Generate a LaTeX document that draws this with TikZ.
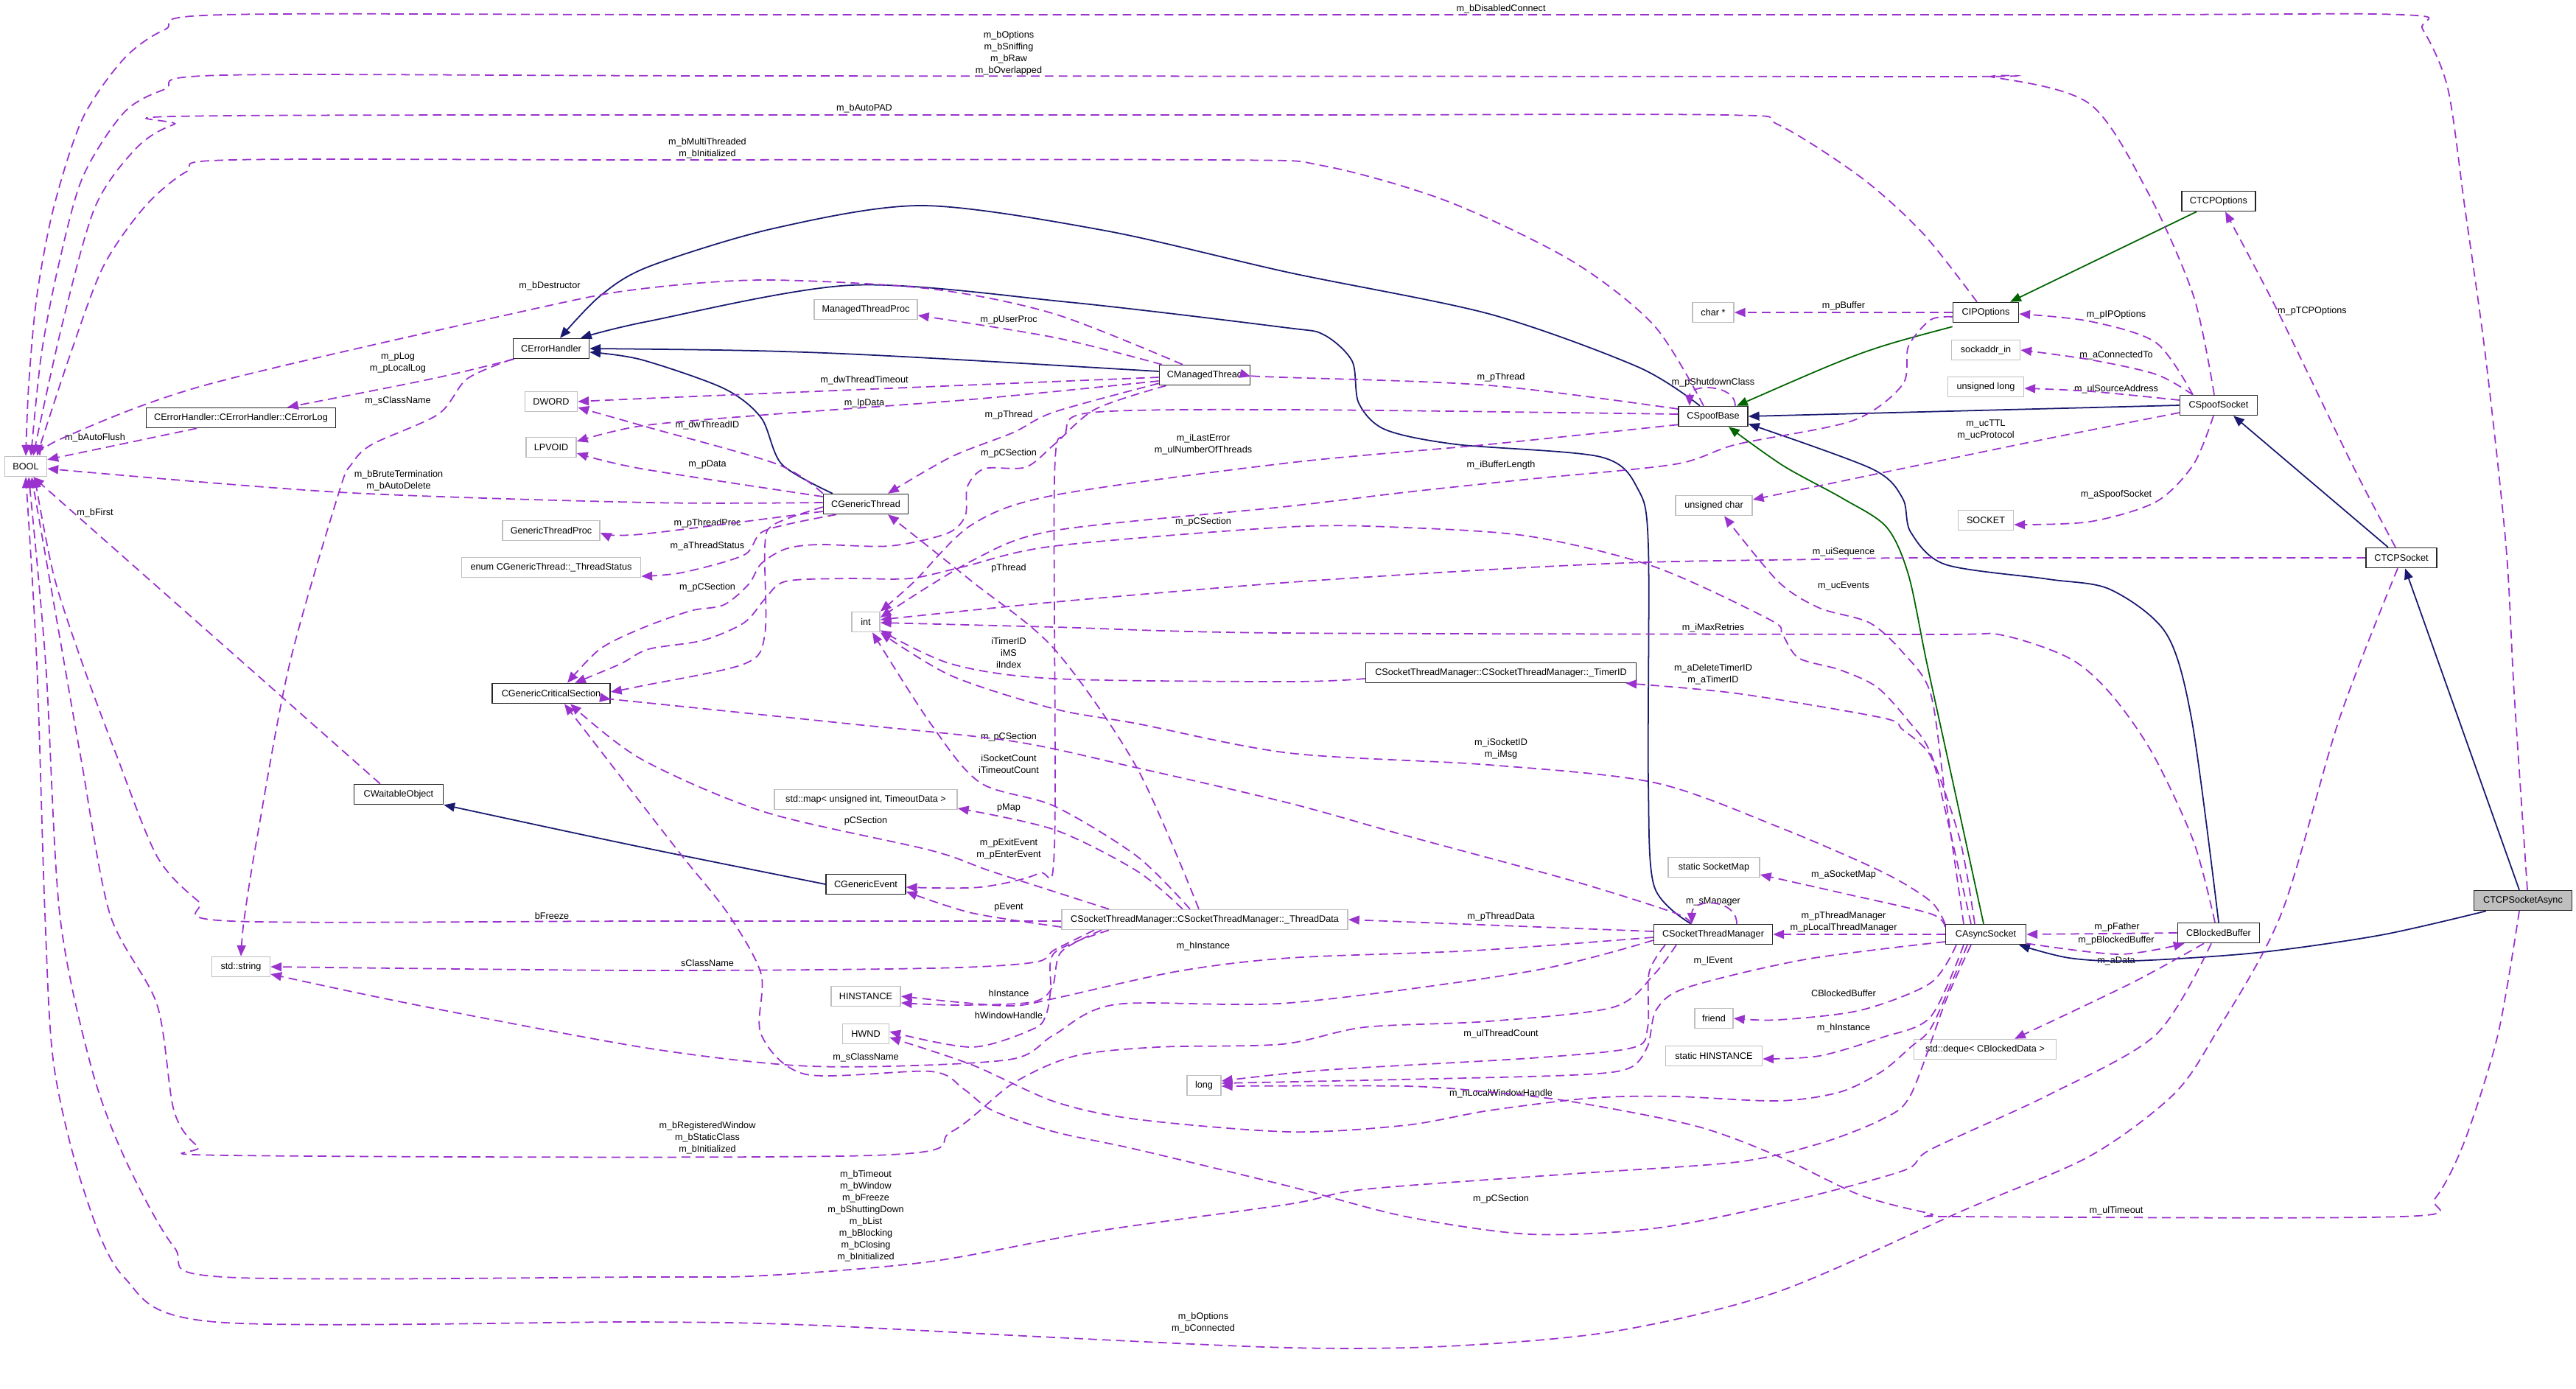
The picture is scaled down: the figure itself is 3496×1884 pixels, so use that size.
\documentclass[tikz,border=0pt]{standalone}
\usepackage{fontspec}
\setmainfont{Liberation Sans}
\usepackage{xcolor}
\usepackage{tikz}
\usetikzlibrary{arrows.meta}
\definecolor{usecol}{HTML}{9A32CD}
\definecolor{inhcol}{HTML}{191970}
\definecolor{protcol}{HTML}{006400}
\definecolor{extcol}{HTML}{BFBFBF}
\newcommand\dxf{\fontsize{3.6pt}{4.55pt}\selectfont}

\begin{document}
\begin{tikzpicture}[x=0.01cm, y=-0.01cm]
  \tikzset{cls/.style={rectangle, draw=black!85, fill=white, line width=0.45pt, minimum height=0.27cm, inner sep=0pt, font=\dxf},
    ext/.style={cls, draw=extcol},
    lab/.style={font=\dxf, align=center, inner sep=0pt},
    use/.style={draw=usecol, line width=0.5pt, dash pattern=on 3.4pt off 2pt, -{Triangle[length=4.2pt,width=3.4pt]}},
    inh/.style={draw=inhcol, line width=0.5pt, -{Triangle[length=4.2pt,width=3.4pt]}},
    prot/.style={draw=protcol, line width=0.5pt, -{Triangle[length=4.2pt,width=3.4pt]}}}
  \useasboundingbox (0,0) rectangle (3496,1884);

  \node[ext, minimum width=0.57cm] (bool) at (35,633) {BOOL};
  \node[cls, minimum width=1.03cm] (eh) at (748,473) {CErrorHandler};
  \node[cls, minimum width=2.57cm] (elog) at (327,567) {CErrorHandler::CErrorHandler::CErrorLog};
  \node[ext, minimum width=0.71cm] (dword) at (748,545) {DWORD};
  \node[ext, minimum width=0.68cm] (lpvoid) at (748,607) {LPVOID};
  \node[ext, minimum width=1.32cm] (gtp) at (748,720) {GenericThreadProc};
  \node[ext, minimum width=2.43cm] (tstat) at (748,770) {enum CGenericThread::\_ThreadStatus};
  \node[cls, minimum width=1.6cm] (gcs) at (748,941) {CGenericCriticalSection};
  \node[cls, minimum width=1.21cm] (wo) at (541,1078) {CWaitableObject};
  \node[ext, minimum width=0.79cm] (str) at (327,1312) {std::string};
  \node[ext, minimum width=1.4cm] (mtp) at (1175,420) {ManagedThreadProc};
  \node[cls, minimum width=1.23cm] (mt) at (1635,509) {CManagedThread};
  \node[cls, minimum width=1.15cm] (gt) at (1175,684) {CGenericThread};
  \node[ext, minimum width=0.38cm] (int) at (1175,844) {int};
  \node[ext, minimum width=2.48cm] (smap) at (1175,1085) {std::map< unsigned int, TimeoutData >};
  \node[cls, minimum width=1.08cm] (ge) at (1175,1200) {CGenericEvent};
  \node[ext, minimum width=3.88cm] (td) at (1635,1248) {CSocketThreadManager::CSocketThreadManager::\_ThreadData};
  \node[ext, minimum width=0.94cm] (hinst) at (1175,1352) {HINSTANCE};
  \node[ext, minimum width=0.63cm] (hwnd) at (1175,1403) {HWND};
  \node[ext, minimum width=0.46cm] (long) at (1634,1473) {long};
  \node[ext, minimum width=0.56cm] (charp) at (2325,424) {char *};
  \node[cls, minimum width=0.94cm] (sb) at (2325,565) {CSpoofBase};
  \node[ext, minimum width=1.04cm] (uchar) at (2326,686) {unsigned char};
  \node[cls, minimum width=3.67cm] (tid) at (2037,913) {CSocketThreadManager::CSocketThreadManager::\_TimerID};
  \node[ext, minimum width=1.24cm] (ssm) at (2326,1177) {static SocketMap};
  \node[cls, minimum width=1.61cm] (stm) at (2325,1268) {CSocketThreadManager};
  \node[ext, minimum width=0.52cm] (friend) at (2326,1382) {friend};
  \node[ext, minimum width=1.31cm] (shinst) at (2326,1433) {static HINSTANCE};
  \node[cls, minimum width=1.0cm] (tcpo) at (3011,273) {CTCPOptions};
  \node[cls, minimum width=0.89cm] (ipo) at (2695,424) {CIPOptions};
  \node[ext, minimum width=0.93cm] (sain) at (2695,475) {sockaddr\_in};
  \node[ext, minimum width=1.03cm] (ulong) at (2695,525) {unsigned long};
  \node[cls, minimum width=1.05cm] (ss) at (3011,550) {CSpoofSocket};
  \node[ext, minimum width=0.75cm] (sock) at (2695,706) {SOCKET};
  \node[cls, minimum width=0.96cm] (tcps) at (3259,757) {CTCPSocket};
  \node[cls, fill=extcol, minimum width=1.33cm] (tcpa) at (3424,1222) {CTCPSocketAsync};
  \node[cls, minimum width=1.09cm] (as) at (2695,1268) {CAsyncSocket};
  \node[cls, minimum width=1.11cm] (bb) at (3011,1266) {CBlockedBuffer};
  \node[ext, minimum width=1.93cm] (deque) at (2694,1424) {std::deque< CBlockedData >};

  \node[lab] (l1) at (2037,12) {m\_bDisabledConnect};
  \node[lab] (l2) at (1369,72) {m\_bOptions\\m\_bSniffing\\m\_bRaw\\m\_bOverlapped};
  \node[lab] (l3) at (1173,147) {m\_bAutoPAD};
  \node[lab] (l4) at (960,201) {m\_bMultiThreaded\\m\_bInitialized};
  \node[lab] (l5) at (746,388) {m\_bDestructor};
  \node[lab] (l6) at (540,492) {m\_pLog\\m\_pLocalLog};
  \node[lab] (l7) at (540,544) {m\_sClassName};
  \node[lab] (l8) at (129,594) {m\_bAutoFlush};
  \node[lab] (l9) at (1369,434) {m\_pUserProc};
  \node[lab] (l10) at (1173,516) {m\_dwThreadTimeout};
  \node[lab] (l11) at (1173,547) {m\_lpData};
  \node[lab] (l12) at (960,577) {m\_dwThreadID};
  \node[lab] (l13) at (1369,563) {m\_pThread};
  \node[lab] (l14) at (960,630) {m\_pData};
  \node[lab] (l15) at (1633,603) {m\_iLastError\\m\_ulNumberOfThreads};
  \node[lab] (l16) at (541,652) {m\_bBruteTermination\\m\_bAutoDelete};
  \node[lab] (l17) at (129,696) {m\_bFirst};
  \node[lab] (l18) at (960,710) {m\_pThreadProc};
  \node[lab] (l19) at (960,741) {m\_aThreadStatus};
  \node[lab] (l20) at (960,797) {m\_pCSection};
  \node[lab] (l21) at (1369,615) {m\_pCSection};
  \node[lab] (l22) at (1633,708) {m\_pCSection};
  \node[lab] (l23) at (1369,771) {pThread};
  \node[lab] (l24) at (1369,886) {iTimerID\\iMS\\iIndex};
  \node[lab] (l25) at (1369,1000) {m\_pCSection};
  \node[lab] (l26) at (1369,1037) {iSocketCount\\iTimeoutCount};
  \node[lab] (l27) at (1369,1096) {pMap};
  \node[lab] (l28) at (1175,1114) {pCSection};
  \node[lab] (l29) at (1369,1152) {m\_pExitEvent\\m\_pEnterEvent};
  \node[lab] (l30) at (1369,1231) {pEvent};
  \node[lab] (l31) at (749,1243) {bFreeze};
  \node[lab] (l32) at (960,1307) {sClassName};
  \node[lab] (l33) at (1633,1284) {m\_hInstance};
  \node[lab] (l34) at (1369,1348) {hInstance};
  \node[lab] (l35) at (1369,1378) {hWindowHandle};
  \node[lab] (l36) at (1175,1435) {m\_sClassName};
  \node[lab] (l37) at (960,1544) {m\_bRegisteredWindow\\m\_bStaticClass\\m\_bInitialized};
  \node[lab] (l38) at (1175,1650) {m\_bTimeout\\m\_bWindow\\m\_bFreeze\\m\_bShuttingDown\\m\_bList\\m\_bBlocking\\m\_bClosing\\m\_bInitialized};
  \node[lab] (l39) at (1633,1795) {m\_bOptions\\m\_bConnected};
  \node[lab] (l40) at (2037,631) {m\_iBufferLength};
  \node[lab] (l41) at (2037,512) {m\_pThread};
  \node[lab] (l42) at (2325,519) {m\_pShutdownClass};
  \node[lab] (l43) at (2502,415) {m\_pBuffer};
  \node[lab] (l44) at (2502,749) {m\_uiSequence};
  \node[lab] (l45) at (2502,795) {m\_ucEvents};
  \node[lab] (l46) at (2325,852) {m\_iMaxRetries};
  \node[lab] (l47) at (2325,915) {m\_aDeleteTimerID\\m\_aTimerID};
  \node[lab] (l48) at (2037,1016) {m\_iSocketID\\m\_iMsg};
  \node[lab] (l49) at (2502,1187) {m\_aSocketMap};
  \node[lab] (l50) at (2325,1223) {m\_sManager};
  \node[lab] (l51) at (2037,1244) {m\_pThreadData};
  \node[lab] (l52) at (2502,1251) {m\_pThreadManager\\m\_pLocalThreadManager};
  \node[lab] (l53) at (2325,1304) {m\_lEvent};
  \node[lab] (l54) at (2502,1348) {CBlockedBuffer};
  \node[lab] (l55) at (2502,1395) {m\_hInstance};
  \node[lab] (l56) at (2037,1403) {m\_ulThreadCount};
  \node[lab] (l57) at (2037,1484) {m\_hLocalWindowHandle};
  \node[lab] (l58) at (2037,1627) {m\_pCSection};
  \node[lab] (l59) at (2873,1258) {m\_pFather};
  \node[lab] (l60) at (2872,1276) {m\_pBlockedBuffer};
  \node[lab] (l61) at (2872,1304) {m\_aData};
  \node[lab] (l62) at (2872,1643) {m\_ulTimeout};
  \node[lab] (l63) at (2872,427) {m\_pIPOptions};
  \node[lab] (l64) at (2872,482) {m\_aConnectedTo};
  \node[lab] (l65) at (2872,528) {m\_ulSourceAddress};
  \node[lab] (l66) at (2695,583) {m\_ucTTL\\m\_ucProtocol};
  \node[lab] (l67) at (3138,422) {m\_pTCPOptions};
  \node[lab] (l68) at (2872,671) {m\_aSpoofSocket};

  \draw[inh] plot[smooth] coordinates {([xshift=-0.18cm]sb.north) (2223,498) (2021,426) (1750,370) (1500,313) (1252,279) (1050,310) (880,362) (814,402) ([xshift=0.12cm]eh.north)};
  \draw[inh] plot[smooth] coordinates {([xshift=-0.3cm]stm.north) (2245,1203) (2237,1062) (2237,741) (2223,664) (2172,620) (1976,603) (1880,583) (1844,547) (1835,490) (1796,454) (1740,444) (1450,410) (1156,387) (880,436) ([xshift=0.4cm]eh.north)};
  \draw[inh] ([yshift=0.05cm]mt.west) .. controls (1100,476) .. (eh.east);
  \draw[inh] plot[smooth] coordinates {([xshift=-0.45cm]gt.north) (1061,630) (1033,567) (982,527) (870,488) ([yshift=-0.05cm]eh.east)};
  \draw[inh] (ge.west) .. controls (870,1150) .. (wo.south east);
  \draw[inh] (ss.west) -- (sb.east);
  \draw[inh] plot[smooth] coordinates {(bb.north) (2975,980) (2940,860) (2864,800) (2780,786) (2640,766) (2593,722) (2582,676) (2540,636) ([yshift=0.04cm]sb.south east)};
  \draw[inh] ([xshift=-0.18cm]tcps.north) -- ([xshift=0.2cm]ss.south);
  \draw[inh] ([xshift=-0.05cm]tcpa.north) -- ([xshift=0.05cm]tcps.south);
  \draw[inh] plot[smooth] coordinates {([xshift=-0.5cm]tcpa.south) (3231,1269) (3062,1293) (2893,1304) (2808,1300) ([xshift=0.45cm]as.south)};
  \draw[prot] ([yshift=-0.05cm]ipo.south west) .. controls (2530,475) .. ([xshift=0.32cm]sb.north);
  \draw[prot] ([xshift=-0.3cm]tcpo.south) -- ([xshift=0.33cm]ipo.north);
  \draw[prot] plot[smooth] coordinates {([xshift=-0.03cm]as.north) (2650,1060) (2615,900) (2590,780) (2560,715) (2500,676) (2420,632) ([xshift=0.21cm]sb.south)};

  \draw[use] plot[smooth] coordinates {([xshift=0.06cm]tcpa.north) (3412,940) (3401,741) (3373,482) (3345,281) (3322,120) (3288,40) (3260,20) (2800,20) (1000,20) (303,20) (224,40) (168,80) (112,161) (73,281) (50,402) (39,522) (bool.north)};
  \draw[use] plot[smooth] coordinates {([xshift=-0.06cm]ss.north) (2977,402) (2915,261) (2836,141) (2706,105) (2610,104) (1000,103) (303,102) (224,121) (168,153) (112,241) (79,362) (56,482) ([xshift=0.07cm]bool.north)};
  \draw[use] plot[smooth] coordinates {([xshift=-0.12cm]ipo.north) (2610,317) (2526,241) (2413,169) (2340,156) (1740,156) (309,157) (236,169) (185,201) (129,281) (84,442) ([xshift=0.1cm]bool.north)};
  \draw[use] plot[smooth] coordinates {([xshift=-0.13cm]sb.north) (2245,442) (2133,354) (1964,273) (1796,225) (1656,217) (870,217) (314,217) (253,233) (196,281) (140,362) (95,482) ([xshift=0.15cm]bool.north)};
  \draw[use] plot[smooth] coordinates {([xshift=-0.3cm]mt.north) (1431,426) (1263,392) (1038,380) (870,392) (730,418) (281,522) (84,595) ([xshift=-0.1cm]bool.north east)};
  \draw[use] ([xshift=-0.6cm]elog.south) -- ([yshift=-0.05cm]bool.north east);
  \draw[use] plot[smooth] coordinates {([yshift=0.02cm]gt.west) (880,682) (460,668) ([yshift=-0.03cm]bool.east)};
  \draw[use] ([xshift=-0.25cm]wo.north) -- ([xshift=0.1cm]bool.south);
  \draw[use] plot[smooth] coordinates {([yshift=-0.02cm]td.west) (880,1250) (314,1250) (269,1223) (213,1162) (157,1022) (112,901) (73,781) ([xshift=0.12cm]bool.south)};
  \draw[use] plot[smooth] coordinates {([xshift=-0.5cm]stm.south) (2245,1322) (2189,1367) (2020,1386) (1852,1394) (1740,1417) (1571,1421) (1459,1433) (1375,1470) (1291,1536) (1184,1568) (314,1568) (269,1556) (236,1507) (213,1363) (149,1240) (110,1030) (75,830) ([xshift=0.08cm]bool.south)};
  \draw[use] plot[smooth] coordinates {([xshift=-0.2cm]as.south) (2640,1360) (2593,1486) (2554,1519) (2469,1552) (2357,1577) (2133,1593) (1852,1614) (1750,1634) (1487,1671) (1263,1712) (1038,1731) (870,1733) (303,1733) (236,1692) (168,1569) (123,1445) (81,1240) (62,900) ([xshift=0.04cm]bool.south)};
  \draw[use] plot[smooth] coordinates {([xshift=-0.05cm]tcps.south) (3175,975) (3096,1240) (3006,1404) (2949,1486) (2836,1569) (2666,1642) (2413,1753) (2189,1807) (1964,1827) (1750,1829) (1431,1815) (1094,1798) (870,1794) (292,1794) (168,1733) (112,1610) (73,1445) (61,1240) (50,900) (bool.south)};

  \draw[use] ([xshift=-0.5cm]eh.south) .. controls (600,512) .. ([xshift=0.63cm]elog.north);
  \draw[use] plot[smooth] coordinates {(eh.south west) (634,514) (595,562) (505,603) (477,630) (460,668) (393,901) (348,1142) (331,1250) (str.north)};
  \draw[use] plot[smooth] coordinates {([xshift=-0.58cm]mt.north) (1431,458) ([yshift=-0.08cm]mtp.east)};
  \draw[use] plot[smooth] coordinates {([yshift=-0.03cm]mt.west) (1207,527) (870,541) (dword.east)};
  \draw[use] plot[smooth] coordinates {([yshift=-0.08cm]mt.west) (1319,542) (1038,563) (870,578) ([yshift=0.08cm]lpvoid.east)};
  \draw[use] plot[smooth] coordinates {(gt.north west) (1055,630) (880,580) ([yshift=-0.08cm]dword.east)};
  \draw[use] plot[smooth] coordinates {([yshift=0.1cm]gt.west) (870,636) ([yshift=-0.08cm]lpvoid.east)};
  \draw[use] plot[smooth] coordinates {([yshift=0.03cm]mt.south west) (1431,559) (1375,587) (1291,620) ([xshift=0.3cm]gt.north)};
  \draw[use] plot[smooth] coordinates {([yshift=-0.1cm]gt.west) (870,725) ([yshift=-0.03cm]gtp.east)};
  \draw[use] plot[smooth] coordinates {([xshift=-0.4cm]gt.south) (1038,720) (1010,753) (926,777) ([yshift=-0.12cm]tstat.east)};

  \draw[use] plot[smooth] coordinates {([yshift=-0.04cm]gt.west) (1050,712) (1038,741) (1038,861) (1010,901) (870,931) ([yshift=0.02cm]gcs.east)};
  \draw[use] plot[smooth] coordinates {([xshift=0.1cm]mt.south west) (1487,555) (1431,603) (1392,634) (1336,636) (1313,660) (1310,700) (1285,724) (1207,741) (1111,739) (1066,745) (1033,765) (1016,793) (982,821) (937,829) (870,853) (814,881) ([xshift=0.22cm]gcs.north)};
  \draw[use] plot[smooth] coordinates {([xshift=-0.15cm]as.north) (2660,1140) (2620,1022) (2593,982) (2548,933) (2497,909) (2441,893) (2419,861) (2402,841) (2245,769) (2077,728) (1908,716) (1750,715) (1431,741) (1308,769) (1235,785) (1150,785) (1066,789) (1038,813) (1010,845) (954,869) (880,881) (842,901) ([xshift=0.32cm]gcs.north)};
  \draw[use] plot[smooth] coordinates {([xshift=-0.3cm]stm.north) (2273,1239) (2133,1195) (1908,1134) (1750,1090) (1543,1042) (1375,1006) (1150,982) (870,953) ([yshift=-0.08cm]gcs.east)};
  \draw[use] plot[smooth] coordinates {([xshift=-1.3cm]td.north) (1347,1183) (1263,1154) (1038,1102) (870,1030) ([xshift=0.26cm]gcs.south)};
  \draw[use] plot[smooth] coordinates {([xshift=-0.1cm]bb.south) (2926,1404) (2780,1486) (2620,1560) (2582,1589) (2413,1634) (2245,1667) (2077,1675) (1908,1651) (1750,1610) (1543,1560) (1431,1536) (1347,1507) (1308,1478) (1263,1454) (1094,1458) (1033,1404) (1033,1322) (988,1240) (926,1162) (870,1090) ([xshift=0.18cm]gcs.south)};

  \draw[use] plot[smooth] coordinates {([yshift=0.03cm]sb.south west) (2021,603) (1750,628) (1431,672) (1319,712) (1240,790) (int.north east)};
  \draw[use] plot[smooth] coordinates {([yshift=-0.06cm]ipo.west) (2620,434) (2590,470) (2582,522) (2514,571) (2357,603) (2273,630) (2077,650) (1908,668) (1740,688) (1431,720) (1319,761) ([yshift=0.06cm]int.east)};
  \draw[use] plot[smooth] coordinates {(tcps.west) (2620,757) (2470,759) (2234,763) (2021,773) (1740,791) (1431,817) ([yshift=0.03cm]int.east)};
  \draw[use] plot[smooth] coordinates {([xshift=-0.05cm]bb.north) (2977,1142) (2921,1022) (2864,941) (2808,893) (2712,861) (2610,861) (1740,859) (1431,851) ([yshift=-0.01cm]int.east)};
  \draw[use] plot[smooth] coordinates {([yshift=-0.08cm]tid.west) (1750,925) (1431,921) (1291,901) ([yshift=0.03cm]int.south east)};
  \draw[use] plot[smooth] coordinates {(as.north west) (2620,1223) (2554,1183) (2413,1122) (2245,1062) (2021,1038) (1750,1022) (1543,982) (1431,962) (1291,917) (int.south east)};
  \draw[use] plot[smooth] coordinates {([xshift=-0.2cm]td.north) (1543,1162) (1431,1094) (1330,1062) (1263,982) ([xshift=0.09cm]int.south)};
  \draw[use] plot[smooth] coordinates {([xshift=-0.08cm]td.north) (1543,1042) (1431,881) (1319,789) ([xshift=0.3cm]gt.south)};

  \draw[use] plot[smooth] coordinates {([yshift=0.03cm]sb.west) (1750,556) (1480,560) (1445,590) (1431,650) (1431,1150) (1410,1185) (1330,1204) ([yshift=-0.04cm]ge.east)};
  \draw[use] plot[smooth] coordinates {([yshift=-0.1cm]td.west) (1319,1239) ([yshift=-0.1cm]ge.east)};
  \draw[use] plot[smooth] coordinates {([xshift=-0.3cm]td.north) (1543,1182) (1431,1126) ([yshift=-0.12cm]smap.east)};
  \draw[use] ([yshift=0.04cm]stm.west) -- (td.east);
  \draw[use] ([xshift=0.32cm]stm.north) .. controls +(0,-35) and +(0,-35) .. ([xshift=-0.29cm]stm.north);
  \draw[use] ([xshift=0.3cm]sb.north) .. controls +(0,-30) and +(0,-30) .. ([xshift=-0.32cm]sb.north);
  \draw[use] plot[smooth] coordinates {([yshift=0.1cm]sb.west) (2021,523) (1740,512) ([yshift=-0.02cm]mt.east)};
  \draw[use] (ipo.west) -- (charp.east);

  \draw[use] plot[smooth] coordinates {([yshift=-0.1cm]ss.west) (2780,595) (2610,630) ([yshift=0.08cm]uchar.east)};
  \draw[use] plot[smooth] coordinates {([xshift=-0.3cm]as.north) (2640,1080) (2620,941) (2582,885) (2537,845) (2469,825) (2413,789) ([xshift=0.14cm]uchar.south)};
  \draw[use] plot[smooth] coordinates {([xshift=-0.2cm]as.north) (2640,1100) (2620,1026) (2582,990) (2554,974) (2357,941) ([xshift=-0.15cm]tid.south east)};
  \draw[use] plot[smooth] coordinates {([yshift=0.1cm]as.west) (2620,1240) (2500,1212) ([yshift=-0.1cm]ssm.east)};
  \draw[use] (as.west) -- (stm.east);
  \draw[use] (bb.west) -- (as.east);
  \draw[use] plot[smooth] coordinates {([yshift=0.02cm]as.south east) (2876,1295) ([xshift=0.1cm]bb.south west)};
  \draw[use] plot[smooth] coordinates {([yshift=-0.1cm]as.west) (2450,1302) (2290,1340) (2248,1370) (2236,1420) (2210,1450) (2133,1459) (1900,1465) ([yshift=0.03cm]long.east)};
  \draw[use] plot[smooth] coordinates {([xshift=-0.65cm]stm.south) (2238,1320) (2236,1395) (2215,1422) (2077,1436) (1800,1452) ([yshift=0.06cm]long.east)};
  \draw[use] plot[smooth] coordinates {([xshift=-0.05cm]tcpa.south) (3390,1404) (3345,1548) (3305,1626) (3260,1651) (2655,1651) (2620,1647) (2525,1622) (2413,1569) (2301,1528) (2133,1495) (2021,1482) (1908,1474) ([yshift=-0.01cm]long.east)};
  \draw[use] plot[smooth] coordinates {([xshift=-0.4cm]as.south) (2620,1334) (2525,1371) (2413,1384) (friend.east)};
  \draw[use] plot[smooth] coordinates {([xshift=-0.3cm]as.south) (2620,1380) (2554,1408) (2469,1433) ([yshift=-0.04cm]shinst.east)};
  \draw[use] plot[smooth] coordinates {([xshift=-0.25cm]as.south) (2650,1330) (2620,1396) (2593,1421) (2554,1454) (2497,1482) (2413,1494) (2273,1488) (2161,1490) (2021,1507) (1908,1527) (1750,1536) (1543,1519) (1431,1495) (1319,1445) ([yshift=-0.05cm]hwnd.east)};
  \draw[use] plot[smooth] coordinates {([xshift=-0.2cm]bb.south) (2893,1334) ([xshift=0.4cm]deque.north)};

  \draw[use] plot[smooth] coordinates {([xshift=-0.07cm]ss.south) (2977,630) (2926,681) (2836,708) ([yshift=-0.06cm]sock.east)};
  \draw[use] plot[smooth] coordinates {([xshift=-0.35cm]ss.north) (2926,465) (2836,436) ([yshift=-0.02cm]ipo.east)};
  \draw[use] plot[smooth] coordinates {([xshift=-0.35cm]ss.north) (2926,508) (2836,488) (sain.east)};
  \draw[use] plot[smooth] coordinates {([yshift=0.07cm]ss.west) (2836,531) ([yshift=-0.02cm]ulong.east)};
  \draw[use] plot[smooth] coordinates {([xshift=-0.08cm]tcps.north) (3192,630) (3090,420) ([xshift=0.09cm]tcpo.south)};

  \draw[use] plot[smooth] coordinates {([yshift=-0.04cm]stm.west) (2000,1290) (1750,1300) (1599,1318) (1431,1355) (1375,1365) (1300,1360) (hinst.east)};
  \draw[use] plot[smooth] coordinates {([xshift=-1.4cm]td.south) (1440,1292) (1428,1340) (1400,1360) (1300,1364) ([yshift=-0.09cm]hinst.east)};
  \draw[use] plot[smooth] coordinates {([xshift=-1.3cm]td.south) (1431,1293) (1426,1343) (1420,1376) (1403,1396) (1319,1421) ([yshift=0.03cm]hwnd.east)};
  \draw[use] plot[smooth] coordinates {([xshift=-1.5cm]td.south) (1431,1289) (1403,1306) (1263,1314) (870,1317) (str.east)};
  \draw[use] plot[smooth] coordinates {([yshift=-0.08cm]stm.west) (2077,1318) (1750,1361) (1515,1363) (1431,1404) (1375,1437) (1207,1447) (1066,1445) (870,1421) (561,1363) ([yshift=-0.1cm]str.east)};
\end{tikzpicture}
\end{document}
